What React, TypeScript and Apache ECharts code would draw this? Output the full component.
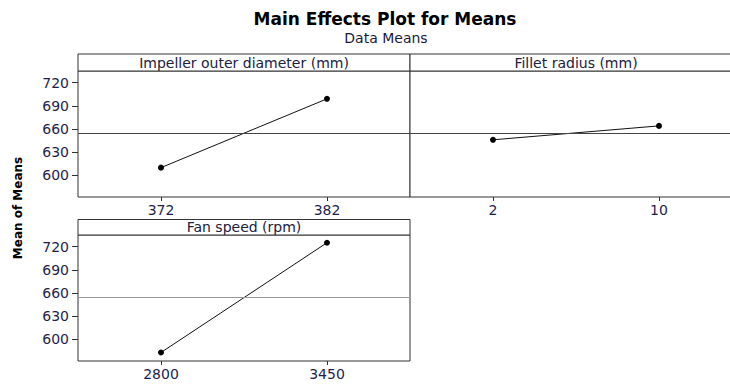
import React, { useEffect, useRef } from "react";
import * as echarts from "echarts";

const titleText = "Main Effects Plot for Means";
const subtitleText = "Data Means";
const yAxisTitle = "Mean of Means";

const panelNames = ["Impeller outer diameter (mm)", "Fillet radius (mm)", "Fan speed (rpm)"];
const impellerLevels = ["372", "382"];
const impellerMeans = [610, 699];
const filletLevels = ["2", "10"];
const filletMeans = [646, 664];
const fanLevels = ["2800", "3450"];
const fanMeans = [583, 725];
const grandMean = 655;
const yTicks = [600, 630, 660, 690, 720];
const yMin = 572;
const yMax = 735;

const FONT = "DejaVu Sans";
const LABEL_COLOR = "#1e1e4e";

export default function App() {
  const ref = useRef<HTMLDivElement>(null);
  useEffect(() => {
    if (!ref.current) return;
    const chart = echarts.init(ref.current, null, { renderer: "svg" });
    const grids = [
      { left: 78, top: 71, width: 332, height: 126 },
      { left: 410, top: 71, width: 332, height: 126 },
      { left: 78, top: 235, width: 332, height: 126 },
    ];
    const levels = [impellerLevels, filletLevels, fanLevels];
    const means = [impellerMeans, filletMeans, fanMeans];
    const meanColors = ["#444", "#444", "#999"];
    const strips = [
      { x: 78, y: 54, w: 332, h: 17 },
      { x: 410, y: 54, w: 332, h: 17 },
      { x: 78, y: 219.5, w: 332, h: 15.5 },
    ];
    const option: any = {
      animation: false,
      backgroundColor: "#fff",
      title: [
        {
          text: titleText,
          left: 380,
          top: 5,
          textAlign: "center",
          textStyle: { fontFamily: FONT, fontSize: 17, fontWeight: "bold", color: "#000" },
        },
        {
          text: subtitleText,
          left: 381,
          top: 26,
          textAlign: "center",
          textStyle: { fontFamily: FONT, fontSize: 14, fontWeight: "normal", color: "#1a1a3a" },
        },
      ],
      grid: grids.map((g) => ({
        ...g,
        show: true,
        borderColor: "#333",
        borderWidth: 1,
        backgroundColor: "#fff",
        containLabel: false,
      })),
      xAxis: levels.map((lv, i) => ({
        type: "category",
        gridIndex: i,
        data: lv,
        boundaryGap: true,
        axisLine: { show: false },
        axisTick: { show: true, alignWithLabel: true, length: 4, lineStyle: { color: "#333" } },
        axisLabel: { margin: 6, fontFamily: FONT, fontSize: 14, color: LABEL_COLOR },
        splitLine: { show: false },
      })),
      yAxis: [0, 1, 2].map((i) => ({
        type: "value",
        gridIndex: i,
        min: yMin,
        max: yMax,
        axisLine: { show: false },
        axisTick: {
          show: i !== 1,
          length: 6,
          customValues: yTicks,
          lineStyle: { color: "#333" },
        },
        axisLabel: {
          show: i !== 1,
          customValues: yTicks,
          margin: 9,
          fontFamily: FONT,
          fontSize: 14,
          color: LABEL_COLOR,
        },
        splitLine: { show: false },
      })),
      series: means.map((m, i) => ({
        type: "line",
        xAxisIndex: i,
        yAxisIndex: i,
        data: m,
        symbol: "circle",
        symbolSize: 6,
        itemStyle: { color: "#000" },
        lineStyle: { color: "#111", width: 1 },
        markLine: {
          silent: true,
          symbol: "none",
          label: { show: false },
          lineStyle: { color: meanColors[i], width: 1, type: "solid" },
          data: [{ yAxis: grandMean }],
        },
      })),
      graphic: [
        ...strips.map((s, i) => ({
          type: "group",
          children: [
            {
              type: "rect",
              shape: { x: s.x, y: s.y, width: s.w, height: s.h },
              style: { fill: "#fff", stroke: "#333", lineWidth: 1 },
            },
            {
              type: "text",
              x: s.x + s.w / 2,
              y: s.y + s.h / 2,
              style: {
                text: panelNames[i],
                fontFamily: FONT,
                fontSize: 14,
                fill: "#202040",
                align: "center",
                verticalAlign: "middle",
              },
            },
          ],
        })),
        {
          type: "text",
          x: 18,
          y: 208,
          rotation: Math.PI / 2,
          style: {
            text: yAxisTitle,
            fontFamily: FONT,
            fontSize: 12,
            fontWeight: "bold",
            fill: "#000",
            align: "center",
            verticalAlign: "middle",
          },
        },
      ],
    };
    chart.setOption(option);
    return () => chart.dispose();
  }, []);
  return (
    <div style={{ position: "absolute", left: 0, top: 0, width: 730, height: 385, overflow: "hidden" }}>
      <div ref={ref} style={{ width: 744, height: 385 }} />
    </div>
  );
}
